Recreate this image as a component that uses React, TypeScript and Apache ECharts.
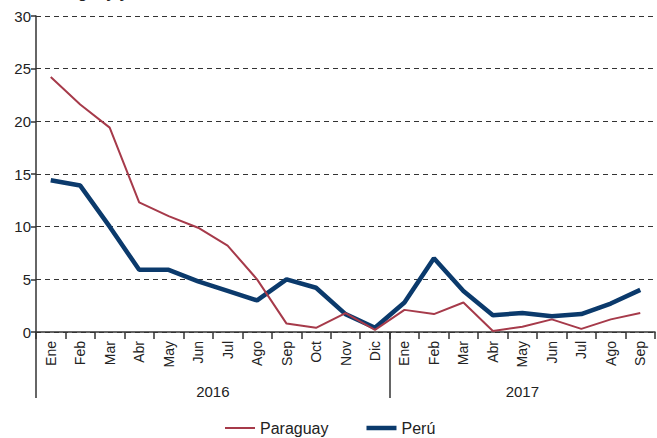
import React, { useEffect, useRef } from "react";
import * as echarts from "echarts";

const months = [
  "Ene", "Feb", "Mar", "Abr", "May", "Jun", "Jul", "Ago", "Sep", "Oct", "Nov", "Dic",
  "Ene", "Feb", "Mar", "Abr", "May", "Jun", "Jul", "Ago", "Sep",
];
const years = ["2016", "2017"];
const yearCenters = [6, 16.5];
const yearBoundaries = [0, 12];
const paraguay = [24.2, 21.6, 19.4, 12.3, 11.0, 9.9, 8.2, 5.0, 0.8, 0.4, 1.8, 0.2, 2.1, 1.7, 2.8, 0.1, 0.5, 1.2, 0.3, 1.2, 1.8];
const peru = [14.4, 13.9, 10.0, 5.9, 5.9, 4.8, 3.9, 3.0, 5.0, 4.2, 1.7, 0.4, 2.8, 7.0, 3.9, 1.6, 1.8, 1.5, 1.7, 2.7, 4.0];
const yTicks = [0, 5, 10, 15, 20, 25, 30];

const FONT = "Liberation Sans, Arial, sans-serif";
const RED = "#a63a4a";
const NAVY = "#0b3a6c";

export default function App() {
  const ref = useRef<HTMLDivElement>(null);
  useEffect(() => {
    if (!ref.current) return;
    const chart = echarts.init(ref.current, undefined, { renderer: "svg" });
    chart.setOption({
      animation: false,
      textStyle: { fontFamily: FONT, color: "#222" },
      title: {
        text: "Paraguay y Perú",
        left: 43,
        top: -16,
        padding: 0,
        textStyle: { fontFamily: FONT, fontSize: 16, fontWeight: "bold", color: "#222" },
      },
      grid: { left: 36, right: 2, top: 16, bottom: 106, containLabel: false },
      legend: {
        top: 420,
        left: 225,
        itemWidth: 30,
        itemHeight: 14,
        itemGap: 38,
        padding: 0,
        textStyle: { fontFamily: FONT, fontSize: 16, color: "#222" },
        data: [
          { name: "Paraguay", icon: "path://M0,0H30V2H0Z", itemStyle: { color: RED, borderWidth: 0 } },
          { name: "Perú", icon: "path://M0,0H30V4.5H0Z", itemStyle: { color: NAVY, borderWidth: 0 } },
        ],
      },
      xAxis: [
        {
          type: "category",
          data: months,
          boundaryGap: true,
          axisLine: { lineStyle: { color: "#333", width: 1.5 } },
          axisTick: { show: true, interval: 0, length: 7, lineStyle: { color: "#333", width: 1.5 } },
          axisLabel: {
            interval: 0,
            rotate: 90,
            fontSize: 14,
            color: "#222",
            fontFamily: FONT,
            margin: 9,
          },
        },
        {
          type: "value",
          min: 0,
          max: 21,
          position: "bottom",
          axisLine: { show: false },
          splitLine: { show: false },
          axisTick: {
            show: true,
            customValues: yearBoundaries,
            length: 66,
            lineStyle: { color: "#333", width: 1.5 },
          },
          axisLabel: {
            customValues: yearCenters,
            formatter: (v: number) => {
              const i = yearCenters.indexOf(v);
              return i >= 0 ? years[i] : "";
            },
            margin: 52,
            fontSize: 15,
            color: "#222",
            fontFamily: FONT,
          },
        },
      ],
      yAxis: {
        type: "value",
        min: 0,
        max: 30,
        interval: 5,
        axisLine: { show: true, lineStyle: { color: "#333", width: 1.5 } },
        axisTick: { show: true, length: 5, lineStyle: { color: "#333", width: 1.5 } },
        axisLabel: {
          fontSize: 15,
          color: "#222",
          fontFamily: FONT,
          margin: 5,
          formatter: (v: number) => (yTicks.includes(v) ? String(v) : ""),
        },
        splitLine: { show: true, lineStyle: { color: "#333", type: [5, 4], width: 1 } },
      },
      series: [
        {
          name: "Paraguay",
          type: "line",
          data: paraguay,
          showSymbol: false,
          symbol: "none",
          lineStyle: { color: RED, width: 2 },
          itemStyle: { color: RED },
          z: 3,
        },
        {
          name: "Perú",
          type: "line",
          data: peru,
          showSymbol: false,
          symbol: "none",
          lineStyle: { color: NAVY, width: 4.5 },
          itemStyle: { color: NAVY },
          z: 2,
        },
      ],
    });
    return () => chart.dispose();
  }, []);
  return <div ref={ref} style={{ width: 657, height: 438, position: "absolute", left: 0, top: 0 }} />;
}
